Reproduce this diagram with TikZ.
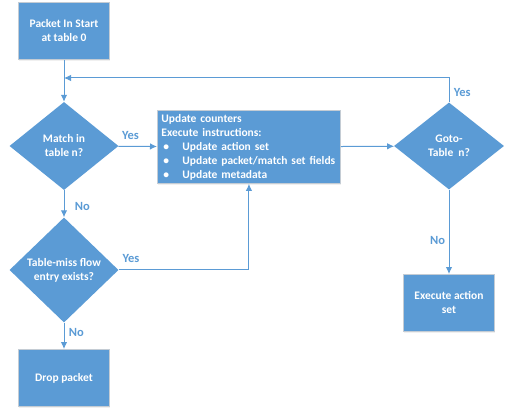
\documentclass[tikz,border=0pt]{standalone}
\usepackage{fontspec}
\setmainfont{Carlito}
\usetikzlibrary{positioning,shapes.geometric,shadows,arrows.meta}
\definecolor{flowblue}{RGB}{91,155,213}
\definecolor{edgegray}{RGB}{196,204,212}

\begin{document}
\begin{tikzpicture}[x=1pt, y=-1pt, >={Latex[length=7pt,width=6.5pt]},
  box/.style={rectangle, draw=edgegray, line width=0.9pt, fill=flowblue, text=white,
    font=\bfseries\fontsize{11.5}{14}\selectfont, align=center,
    minimum width=91pt, minimum height=57pt,
    drop shadow={opacity=0.12, shadow xshift=0.6pt, shadow yshift=-1.6pt}},
  decision/.style={diamond, fill=flowblue, text=white, inner sep=0pt,
    font=\bfseries\fontsize{11.5}{14}\selectfont, align=center,
    minimum width=109pt},
  link/.style={->, draw=flowblue, line width=1pt},
  lbl/.style={text=flowblue, font=\bfseries\fontsize{12.5}{14}\selectfont}]
  \useasboundingbox (0,0) rectangle (512,411);
  \node[box] (start) at (64,31) {Packet In Start\\at table 0};
  \node[decision, minimum height=88pt] (match) at (64,146) {Match in\\table n?};
  \node[decision, minimum height=105pt] (miss) at (64,270) {Table-miss flow\\entry exists?};
  \node[box] (drop) at (64,378) {Drop packet};
  \node[box, align=left, anchor=north west, text width=175pt, minimum height=73pt,
    inner xsep=4pt, inner ysep=2pt] (update) at (157,110)
    {Update counters\\Execute instructions:\\
     \makebox[21pt][l]{\hspace{2pt}\textbullet}Update action set\\
     \makebox[21pt][l]{\hspace{2pt}\textbullet}Update packet/match set fields\\
     \makebox[21pt][l]{\hspace{2pt}\textbullet}Update metadata};
  \node[decision, minimum width=110pt, minimum height=87pt] (goto) at (449,146) {Goto-\\Table~ n?};
  \node[box] (exec) at (449,303) {Execute action\\set};
  \coordinate (join) at (64,78);

  \draw[link] (start) -- (match);
  \draw[link] (match) -- node[lbl, above right, pos=0, yshift=3pt] {Yes} (update);
  \draw[link] (update) -- (goto);
  \draw[link] (goto) |- node[lbl, right, pos=0.2, xshift=1pt] {Yes} (join);
  \draw[link] (goto) -- node[lbl, left, pos=0.6] {No} (exec);
  \draw[link] (match) -- node[lbl, right, xshift=7pt, yshift=-3pt] {No} (miss);
  \draw[link] (miss) -| node[lbl, above right, pos=0, yshift=4pt] {Yes} (update);
  \draw[link] (miss) -- node[lbl, right, xshift=1pt, yshift=3pt] {No} (drop);
\end{tikzpicture}
\end{document}
